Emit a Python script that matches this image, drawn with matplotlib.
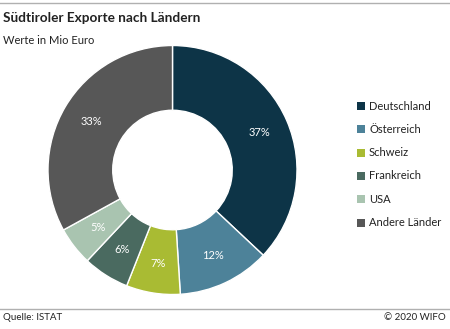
import matplotlib.pyplot as plt
from matplotlib.patches import Rectangle
from matplotlib.lines import Line2D

plt.rcParams["font.family"] = ["Lato", "DejaVu Sans"]

countries = ["Deutschland", "Österreich", "Schweiz", "Frankreich", "USA", "Andere Länder"]
shares = [37, 12, 7, 6, 5, 33]
colors = ["#0d3447", "#4d8299", "#a9bb33", "#4a6a60", "#a9c4b0", "#575757"]

fig = plt.figure(figsize=(4.5, 3.29), dpi=100)
fig.patch.set_facecolor("white")

# header and footer rules
fig.add_artist(Line2D([0, 1], [1 - 3 / 329, 1 - 3 / 329], color="#b0b0b0", lw=1))
fig.add_artist(Line2D([0, 1], [1 - 309 / 329, 1 - 309 / 329], color="#b0b0b0", lw=1))

fig.text(3 / 450, 1 - 18 / 329, "Südtiroler Exporte nach Ländern", fontsize=9.8,
         fontweight="bold", color="#222222", va="center")
fig.text(3 / 450, 1 - 40 / 329, "Werte in Mio Euro", fontsize=8, color="#222222", va="center")
fig.text(3 / 450, 1 - 318 / 329, "Quelle: ISTAT", fontsize=7, color="#222222", va="center")
fig.text(446 / 450, 1 - 318 / 329, "© 2020 WIFO", fontsize=7, color="#222222",
         va="center", ha="right")

ax = fig.add_axes([48 / 450, 34.5 / 329, 249 / 450, 249 / 329])
wedges, texts, autotexts = ax.pie(
    shares, colors=colors, startangle=90, counterclock=False,
    autopct="%d%%", pctdistance=0.76,
    wedgeprops=dict(width=0.52, edgecolor="white", linewidth=1),
    textprops=dict(color="white", fontsize=8),
)
ax.set_xlim(-1, 1)
ax.set_ylim(-1, 1)
ax.set_aspect("equal")
ax.axis("off")

# legend
for i, (name, col) in enumerate(zip(countries, colors)):
    y = 1 - (106 + i * 23.3) / 329
    fig.add_artist(Rectangle((357 / 450, y - 4 / 329), 8 / 450, 8 / 329,
                             facecolor=col, edgecolor="none", transform=fig.transFigure))
    fig.text(369 / 450, y, name, fontsize=8, color="#222222", va="center")

fig.savefig("out.png", dpi=100)
